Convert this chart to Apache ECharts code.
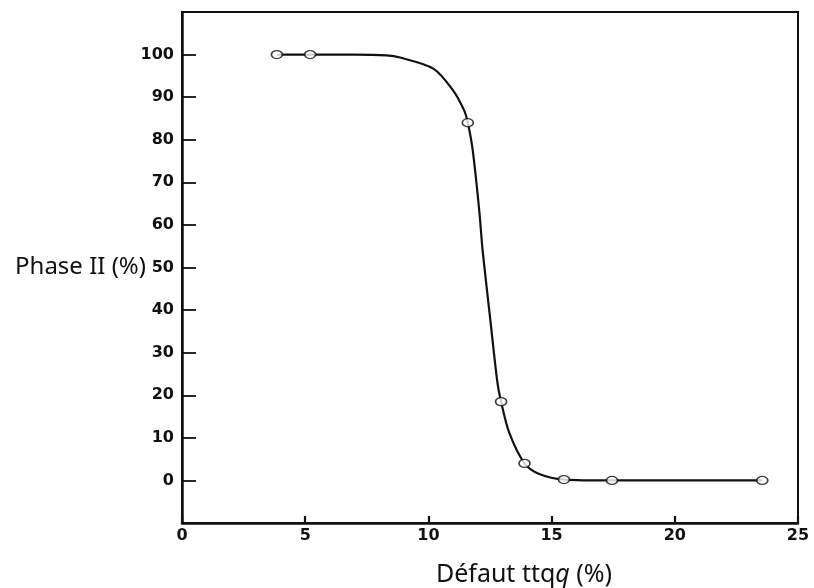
<!DOCTYPE html>
<html>
<head>
<meta charset="utf-8">
<script src="https://cdn.jsdelivr.net/npm/echarts@6/dist/echarts.min.js"></script>
<style>
html,body{margin:0;padding:0;background:#fff;}
#c{width:814px;height:588px;}
</style>
</head>
<body>
<div id="c"></div>
<script>
// Measured points (open circles)
var pointX = [3.85, 5.2, 11.6, 12.95, 13.9, 15.5, 17.45, 23.55];
var pointY = [100, 100, 84, 18.5, 4, 0.2, 0, 0];
// Hand-drawn fitted curve
var curveX = [3.85, 5.2, 7.0, 8.3, 8.85, 10.2, 11.0, 11.45, 11.6, 11.8, 12.07, 12.2, 12.5, 12.8, 12.95, 13.28, 13.9, 14.5, 15.5, 17.45, 23.55];
var curveY = [100, 100, 100, 99.8, 99.3, 96.7, 91.6, 86.9, 84, 77.5, 63, 54, 38.4, 23, 18.5, 11.2, 4, 1.5, 0.2, 0, 0];

var xName = 'Défaut ttq{i|q} (%)';
var yName = 'Phase II (%)';

var chart = echarts.init(document.getElementById('c'), null, {renderer: 'canvas'});
var tickFont = {color: '#111', fontFamily: 'DejaVu Sans', fontWeight: 'bold', fontSize: 16};
chart.setOption({
  backgroundColor: '#ffffff',
  animation: false,
  grid: {left: 182, right: 16, top: 12, bottom: 65, show: true, borderColor: '#111', borderWidth: 2,
         containLabel: false, outerBoundsMode: 'none'},
  xAxis: {
    type: 'value', min: 0, max: 25, interval: 5, position: 'bottom',
    name: xName, nameLocation: 'middle', nameGap: 39, nameMoveOverlap: false,
    nameTextStyle: {fontFamily: 'Noto Sans', fontSize: 25, color: '#111', padding: [0, 0, 0, 68],
      rich: {i: {fontFamily: 'Noto Sans', fontSize: 25, fontStyle: 'italic', color: '#111'}}},
    axisLine: {onZero: true, onZeroAxisIndex: 1, lineStyle: {color: '#111', width: 2.5}},
    axisTick: {show: true, inside: true, length: 7, lineStyle: {color: '#111', width: 2.2}},
    axisLabel: Object.assign({margin: 5}, tickFont),
    splitLine: {show: false},
    z: 5
  },
  yAxis: [{
    type: 'value', min: -10, max: 110, interval: 10,
    name: yName, nameLocation: 'middle', nameRotate: 0, nameGap: 36, nameMoveOverlap: false,
    nameTextStyle: {fontFamily: 'Noto Sans', fontSize: 24, color: '#111'},
    axisLine: {onZero: false, lineStyle: {color: '#111', width: 2.5}},
    axisTick: {inside: true, length: 14, lineStyle: {color: '#111', width: 1.8}},
    axisLabel: Object.assign({margin: 8, formatter: function (v) { return (v < 0 || v > 100) ? '' : String(v); }}, tickFont),
    splitLine: {show: false},
    z: 5
  }, {
    type: 'value', min: 0, max: 120, interval: 10, position: 'right',
    axisLine: {show: false, onZero: false},
    axisTick: {show: false},
    axisLabel: {show: false},
    splitLine: {show: false}
  }],
  series: [
    {
      type: 'line', smooth: 0.3, showSymbol: false, symbol: 'none',
      lineStyle: {color: '#111', width: 2.2},
      data: curveX.map(function (x, i) { return [x, curveY[i]]; }),
      z: 2
    },
    {
      type: 'scatter', symbol: 'circle', symbolSize: [11, 8],
      itemStyle: {color: '#fff', borderColor: '#111', borderWidth: 1.5},
      data: pointX.map(function (x, i) { return [x, pointY[i]]; }),
      z: 3
    }
  ]
});
</script>
</body>
</html>
